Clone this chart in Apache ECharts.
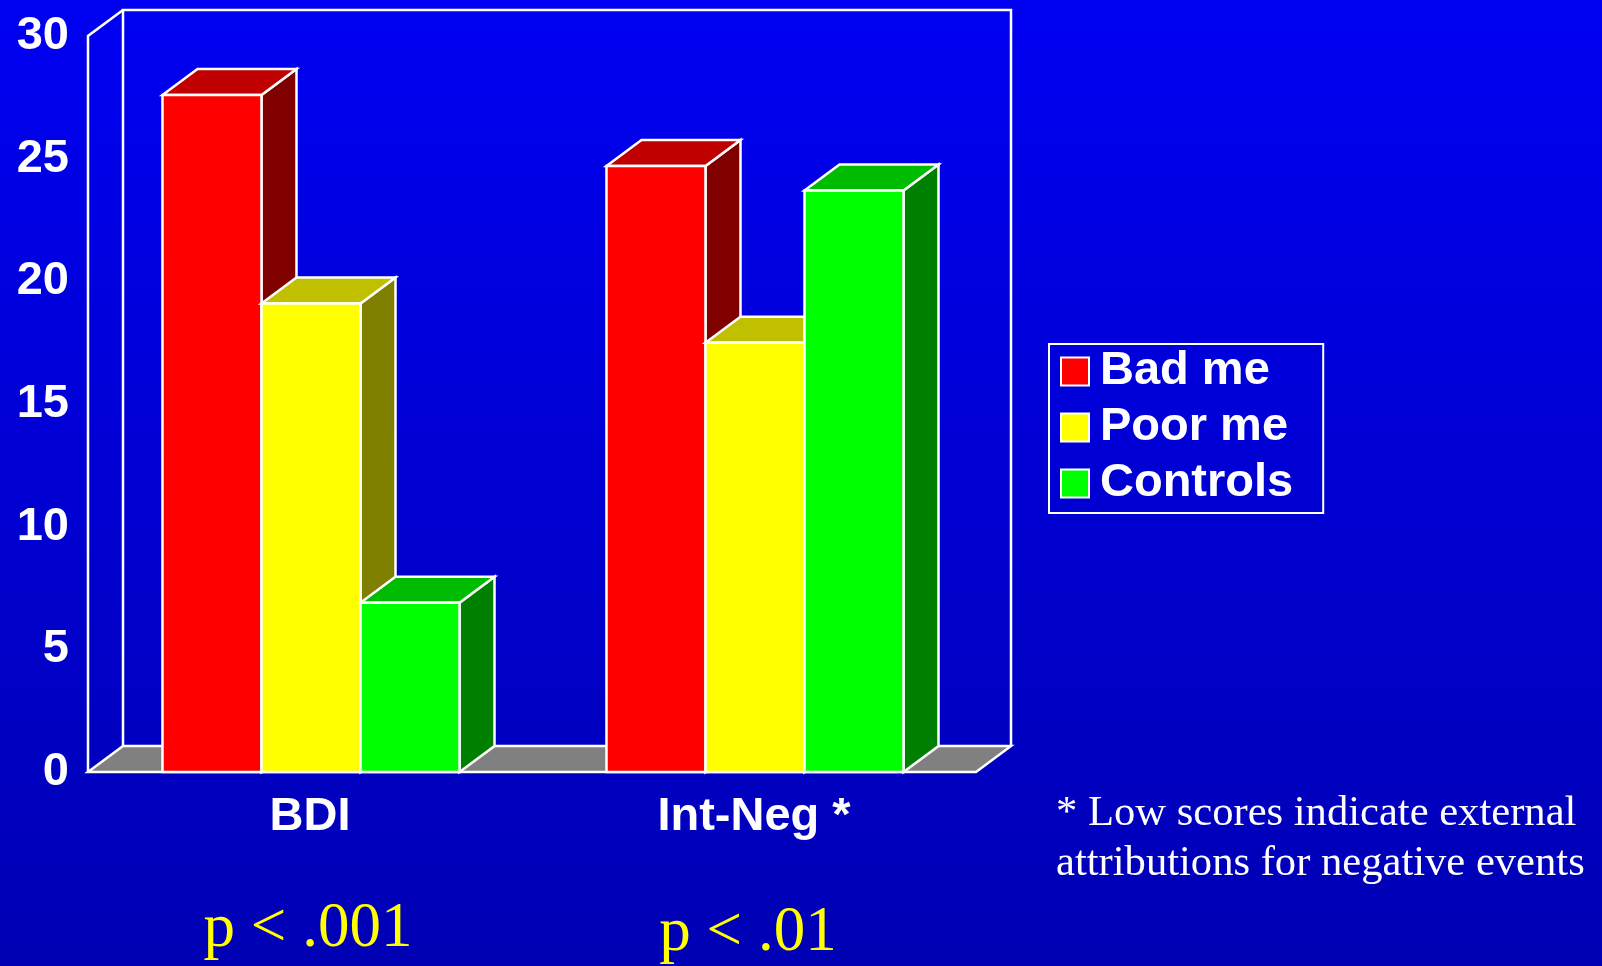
<!DOCTYPE html>
<html>
<head>
<meta charset="utf-8">
<title>Bad me / Poor me / Controls</title>
<script src="https://cdn.jsdelivr.net/npm/echarts@6/dist/echarts.min.js"></script>
<style>
  html, body { margin: 0; padding: 0; width: 1602px; height: 966px; overflow: hidden; }
  #chart { width: 1602px; height: 966px; }
</style>
</head>
<body>
<div id="chart"></div>
<script>
// ---- data ----
const categories = ['BDI', 'Int-Neg *'];
const seriesNames = ['Bad me', 'Poor me', 'Controls'];
const badMe = [27.6, 24.7];
const poorMe = [19.1, 17.5];
const controls = [6.9, 23.7];
const pValues = ['p < .001', 'p < .01'];
const footnoteLines = ['* Low scores indicate external', 'attributions for negative events'];
const yMin = 0, yMax = 30, yStep = 5;

// ---- styling ----
const SANS = '"Liberation Sans", Arial, sans-serif';
const SERIF = '"Liberation Serif", "Times New Roman", serif';
const DX = 35, DY = -26;          // oblique depth of the 3D box
const BAR_RATIO = 0.223;          // bar width as a share of one category band
const faceColors = [
  { front: '#ff0000', top: '#c00000', side: '#800000' },
  { front: '#ffff00', top: '#c0c000', side: '#808000' },
  { front: '#00ff00', top: '#00bc00', side: '#008000' }
];
const edge = { stroke: '#ffffff', lineWidth: 2.5, lineJoin: 'miter' };

// back wall, side wall and floor of the 3D frame
function renderFrame(params, api) {
  const band = api.size([1, 0])[0];
  const first = api.coord([0, yMin]);
  const last = api.coord([categories.length - 1, yMin]);
  const yTop = api.coord([0, yMax])[1];
  const x0 = first[0] - band / 2, x1 = last[0] + band / 2, y0 = first[1];
  return {
    type: 'group',
    children: [
      { type: 'polygon',
        shape: { points: [[x0, y0], [x1, y0], [x1 + DX, y0 + DY], [x0 + DX, y0 + DY]] },
        style: Object.assign({ fill: '#808080' }, edge) },
      { type: 'polyline',
        shape: { points: [[x0 + DX, y0 + DY], [x0 + DX, yTop + DY], [x1 + DX, yTop + DY], [x1 + DX, y0 + DY]] },
        style: Object.assign({ fill: null }, edge) },
      { type: 'polyline',
        shape: { points: [[x0, y0], [x0, yTop], [x0 + DX, yTop + DY]] },
        style: Object.assign({ fill: null }, edge) }
    ]
  };
}

// one 3D bar: front face, top face and right side face
function barRenderer(k) {
  const col = faceColors[k];
  return function (params, api) {
    const cat = api.value(0);
    const val = api.value(1);
    const band = api.size([1, 0])[0];
    const w = band * BAR_RATIO;
    const pTop = api.coord([cat, val]);
    const pBase = api.coord([cat, yMin]);
    const xL = pTop[0] + (k - 1.5) * w + 1;
    const xR = xL + w;
    const yT = pTop[1], yB = pBase[1];
    return {
      type: 'group',
      children: [
        { type: 'polygon',
          shape: { points: [[xR, yT], [xR + DX, yT + DY], [xR + DX, yB + DY], [xR, yB]] },
          style: Object.assign({ fill: col.side }, edge) },
        { type: 'polygon',
          shape: { points: [[xL, yT], [xR, yT], [xR + DX, yT + DY], [xL + DX, yT + DY]] },
          style: Object.assign({ fill: col.top }, edge) },
        { type: 'rect',
          shape: { x: xL, y: yT, width: w, height: yB - yT },
          style: Object.assign({ fill: col.front }, edge) }
      ]
    };
  };
}

const valueSets = [badMe, poorMe, controls];

const chart = echarts.init(document.getElementById('chart'), null, { renderer: 'canvas' });

const option = {
  animation: false,
  backgroundColor: new echarts.graphic.LinearGradient(0, 0, 0, 1, [
    { offset: 0, color: '#0000f2' },
    { offset: 1, color: '#0000b4' }
  ]),
  grid: { left: 88, top: 36, width: 888, height: 736, containLabel: false },
  xAxis: {
    type: 'category',
    data: categories,
    axisLine: { show: false },
    axisTick: { show: false },
    splitLine: { show: false },
    axisLabel: {
      color: '#ffffff', fontSize: 47, fontWeight: 'bold', fontFamily: SANS,
      margin: 20, lineHeight: 50
    }
  },
  yAxis: {
    type: 'value',
    min: yMin, max: yMax, interval: yStep,
    axisLine: { show: false },
    axisTick: { show: false },
    splitLine: { show: false },
    axisLabel: {
      color: '#ffffff', fontSize: 47, fontWeight: 'bold', fontFamily: SANS, margin: 19
    }
  },
  legend: {
    orient: 'vertical',
    left: 1049, top: 344,
    padding: [4, 30, 6, 11],
    itemGap: 9,
    itemWidth: 28, itemHeight: 28,
    borderColor: '#ffffff', borderWidth: 2,
    icon: 'rect',
    selectedMode: false,
    textStyle: {
      color: '#ffffff', fontSize: 47, fontWeight: 'bold', fontFamily: SANS,
      lineHeight: 47, padding: [0, 0, 0, 6]
    },
    data: seriesNames.map((n, k) => ({
      name: n,
      itemStyle: { color: faceColors[k].front, borderColor: '#ffffff', borderWidth: 2 }
    }))
  },
  series: [
    {
      type: 'custom',
      name: 'frame',
      silent: true,
      z: 1,
      renderItem: renderFrame,
      data: [[0, yMin]]
    }
  ].concat(seriesNames.map((n, k) => ({
    type: 'custom',
    name: n,
    silent: true,
    z: 2 + k,
    itemStyle: { color: faceColors[k].front },
    renderItem: barRenderer(k),
    encode: { x: 0, y: 1 },
    data: categories.map((c, i) => [i, valueSets[k][i]])
  }))),
  graphic: [
    { type: 'text', x: 308, y: 929,
      style: { text: pValues[0], fill: '#ffff00', fontSize: 63, fontFamily: SERIF,
               align: 'center', verticalAlign: 'middle' } },
    { type: 'text', x: 748, y: 933,
      style: { text: pValues[1], fill: '#ffff00', fontSize: 63, fontFamily: SERIF,
               align: 'center', verticalAlign: 'middle' } },
    { type: 'text', x: 1056, y: 789,
      style: { text: footnoteLines.join('\n'), fill: '#ffffff', fontSize: 42.6, fontFamily: SERIF,
               lineHeight: 50, align: 'left', verticalAlign: 'top' } }
  ]
};

chart.setOption(option);
</script>
</body>
</html>
